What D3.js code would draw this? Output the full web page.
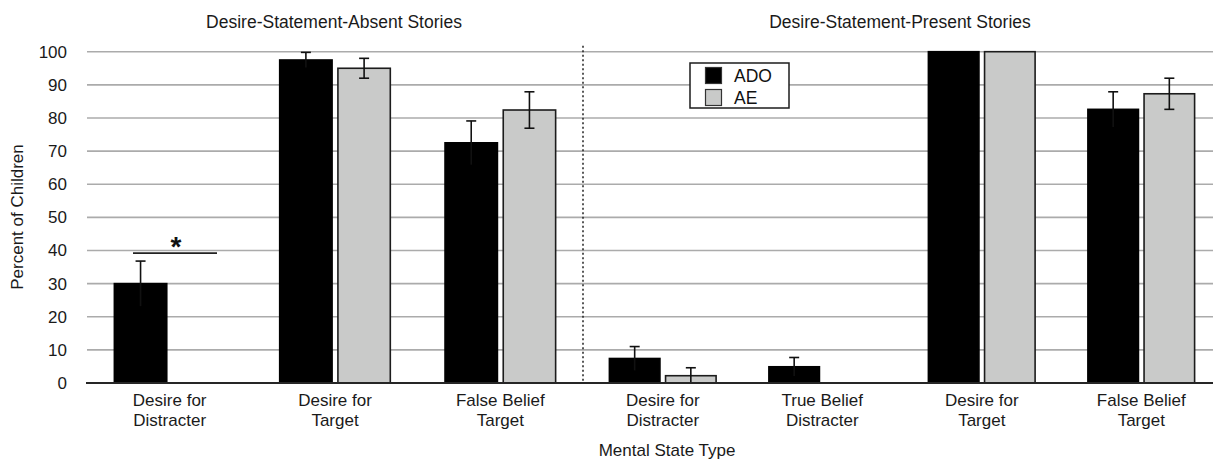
<!DOCTYPE html>
<html>
<head>
<meta charset="utf-8">
<script src="https://cdn.jsdelivr.net/npm/d3@7"></script>
<style>
  html, body { margin: 0; padding: 0; background: #fff; }
  svg { display: block; font-family: "Liberation Sans", Arial, sans-serif; }
</style>
</head>
<body>
<svg id="chart" width="1213" height="461"></svg>
<script>
// ---- data ----
const seriesNames = ["ADO", "AE"];
const leftTitle = "Desire-Statement-Absent Stories";
const rightTitle = "Desire-Statement-Present Stories";
const leftCategories = ["Desire for\nDistracter", "Desire for\nTarget", "False Belief\nTarget"];
const rightCategories = ["Desire for\nDistracter", "True Belief\nDistracter", "Desire for\nTarget", "False Belief\nTarget"];
const leftADO = [30, 97.5, 72.5];
const leftAE = [0, 95, 82.4];
const leftADOErr = [6.8, 2.3, 6.6];
const leftAEErr = [0, 3, 5.5];
const rightADO = [7.4, 4.9, 100, 82.6];
const rightAE = [2.2, 0, 100, 87.3];
const rightADOErr = [3.6, 2.8, 0, 5.3];
const rightAEErr = [2.4, 0, 0, 4.7];
const yTicks = [0, 10, 20, 30, 40, 50, 60, 70, 80, 90, 100];
const yLabel = "Percent of Children";
const xLabel = "Mental State Type";
const sigMark = "*";
const sigLevel = 39.2;

// ---- layout ----
const svg = d3.select("#chart");
const W = 1213;
const plotLeft = 87, divider = 583, plotRight = 1221;
const y = d3.scaleLinear().domain([0, 100]).range([383, 51.7]);
const colors = { ADO: "#000000", AE: "#c9cac9" };

const xLeft = d3.scaleBand().domain(leftCategories).range([plotLeft, divider]);
const xRight = d3.scaleBand().domain(rightCategories).range([divider, plotRight]);

// gridlines
svg.append("g").selectAll("line").data(yTicks.filter(d => d > 0)).join("line")
  .attr("x1", plotLeft).attr("x2", W)
  .attr("y1", d => y(d)).attr("y2", d => y(d))
  .attr("stroke", "#ababab").attr("stroke-width", 1.6);

// y axis labels
const yAxis = svg.append("g").attr("transform", `translate(${plotLeft},0)`)
  .call(d3.axisLeft(y).tickValues(yTicks).tickSize(0).tickPadding(20));
yAxis.select(".domain").remove();
yAxis.selectAll("text").attr("font-size", 17).attr("fill", "#1a1a1a")
  .attr("font-family", "Liberation Sans, Arial, sans-serif");

// divider
svg.append("line").attr("x1", divider).attr("x2", divider)
  .attr("y1", y(100) - 6).attr("y2", y(0))
  .attr("stroke", "#222").attr("stroke-width", 1.5).attr("stroke-dasharray", "2,2.5");

function panel(x, cats, ado, ae, adoErr, aeErr) {
  const xs = d3.scaleBand().domain(seriesNames).range([0, x.bandwidth()])
    .paddingInner(0.1).paddingOuter(0.47);
  const rows = cats.map((c, i) => ({ c, vals: [
    { s: "ADO", v: ado[i], e: adoErr[i] },
    { s: "AE", v: ae[i], e: aeErr[i] } ] }));
  const g = svg.append("g");
  const grp = g.selectAll("g.grp").data(rows).join("g")
    .attr("transform", d => `translate(${x(d.c)},0)`);
  grp.selectAll("rect").data(d => d.vals.filter(v => v.v > 0)).join("rect")
    .attr("x", d => xs(d.s)).attr("width", xs.bandwidth())
    .attr("y", d => y(d.v)).attr("height", d => y(0) - y(d.v))
    .attr("fill", d => colors[d.s])
    .attr("stroke", d => d.s === "AE" ? "#1c1c1c" : "#000")
    .attr("stroke-width", 1.6);
  const eb = grp.selectAll("g.err").data(d => d.vals.filter(v => v.v > 0 && v.e > 0)).join("g")
    .attr("transform", d => `translate(${xs(d.s) + xs.bandwidth() / 2},0)`);
  eb.append("line").attr("x1", 0).attr("x2", 0)
    .attr("y1", d => y(Math.max(0, d.v - d.e))).attr("y2", d => y(d.v + d.e))
    .attr("stroke", "#111").attr("stroke-width", 1.6);
  eb.append("line").attr("x1", -5).attr("x2", 5)
    .attr("y1", d => y(d.v + d.e)).attr("y2", d => y(d.v + d.e))
    .attr("stroke", "#111").attr("stroke-width", 1.6);
  eb.filter(d => d.s === "AE" && d.v - d.e > 0).append("line").attr("x1", -5).attr("x2", 5)
    .attr("y1", d => y(d.v - d.e)).attr("y2", d => y(d.v - d.e))
    .attr("stroke", "#111").attr("stroke-width", 1.6);

  // category labels
  const ax = svg.append("g").attr("transform", `translate(0,${y(0)})`)
    .call(d3.axisBottom(x).tickSize(0).tickPadding(0).tickFormat(() => ""));
  ax.select(".domain").remove();
  ax.selectAll(".tick text").each(function(d) {
    const t = d3.select(this).attr("font-size", 17).attr("fill", "#1a1a1a")
      .attr("font-family", "Liberation Sans, Arial, sans-serif").attr("dy", null).attr("y", 0);
    d.split("\n").forEach((line, i) => {
      t.append("tspan").attr("x", 0).attr("y", 23 + i * 20).text(line);
    });
  });
  return xs;
}

panel(xLeft, leftCategories, leftADO, leftAE, leftADOErr, leftAEErr);
panel(xRight, rightCategories, rightADO, rightAE, rightADOErr, rightAEErr);

// baseline
svg.append("line").attr("x1", plotLeft - 1).attr("x2", W)
  .attr("y1", y(0)).attr("y2", y(0)).attr("stroke", "#262626").attr("stroke-width", 2);

// significance marker
const c0 = xLeft(leftCategories[0]);
svg.append("line").attr("x1", c0 + 46).attr("x2", c0 + 130)
  .attr("y1", y(sigLevel)).attr("y2", y(sigLevel))
  .attr("stroke", "#222").attr("stroke-width", 1.6);
svg.append("text").attr("x", c0 + 89).attr("y", y(sigLevel) + 3)
  .attr("text-anchor", "middle").attr("font-size", 28).attr("font-weight", "bold")
  .attr("fill", "#111").text(sigMark);

// titles
svg.append("text").attr("x", (plotLeft + divider) / 2 - 1).attr("y", 28)
  .attr("text-anchor", "middle").attr("font-size", 17.5).attr("fill", "#1a1a1a").text(leftTitle);
svg.append("text").attr("x", 900).attr("y", 28)
  .attr("text-anchor", "middle").attr("font-size", 17.5).attr("fill", "#1a1a1a").text(rightTitle);

// axis titles
svg.append("text").attr("x", 667).attr("y", 456)
  .attr("text-anchor", "middle").attr("font-size", 17).attr("fill", "#1a1a1a").text(xLabel);
svg.append("text").attr("transform", "translate(23,217) rotate(-90)")
  .attr("text-anchor", "middle").attr("font-size", 17).attr("fill", "#1a1a1a").text(yLabel);

// legend
const lg = svg.append("g").attr("transform", "translate(690,63)");
lg.append("rect").attr("x", 0).attr("y", 0).attr("width", 99).attr("height", 45)
  .attr("fill", "#fff").attr("stroke", "#1c1c1c").attr("stroke-width", 1.5);
seriesNames.forEach((s, i) => {
  lg.append("rect").attr("x", 15.5).attr("y", 4.5 + i * 22).attr("width", 16).attr("height", 16)
    .attr("fill", colors[s]).attr("stroke", "#333").attr("stroke-width", 1.2);
  lg.append("text").attr("x", 44).attr("y", 18.5 + i * 22).attr("font-size", 17.5)
    .attr("fill", "#111").text(s);
});
</script>
</body>
</html>
